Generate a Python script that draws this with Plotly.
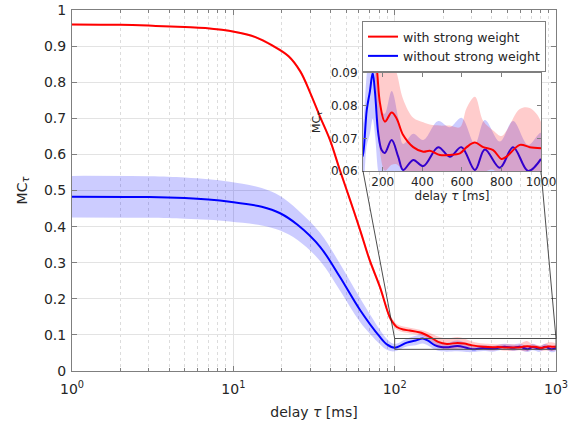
import plotly.graph_objects as go
import numpy as np

# ---------------- data ----------------
delay_red = [1, 2, 3.3, 5, 6.7, 10.3, 13.7, 17.4, 22, 26,
             30, 34.5, 39.7, 45.7, 52.9, 61, 70, 81, 93, 98,
             103, 113, 124, 150, 172, 186, 211, 245, 270, 303,
             354, 405, 438, 489, 539, 590, 624, 666, 708, 758,
             800, 826, 893, 943, 1000]
mc_red = [0.960, 0.959, 0.956, 0.953, 0.950, 0.939, 0.925, 0.902, 0.872, 0.830,
          0.770, 0.704, 0.640, 0.557, 0.474, 0.391, 0.307, 0.233, 0.150, 0.133,
          0.122, 0.115, 0.112, 0.104, 0.090, 0.0807, 0.0751, 0.0779, 0.0761, 0.0710,
          0.0673, 0.0659, 0.0662, 0.0649, 0.0649, 0.0654, 0.0673, 0.0687, 0.0673, 0.0664,
          0.0637, 0.0644, 0.0680, 0.0673, 0.0670]
sd_red = [0.002, 0.002, 0.002, 0.002, 0.002, 0.003, 0.003, 0.004, 0.004, 0.005,
          0.005, 0.006, 0.006, 0.007, 0.007, 0.008, 0.008, 0.008, 0.008, 0.008,
          0.008, 0.008, 0.008, 0.008, 0.012, 0.015, 0.015, 0.016, 0.014, 0.011,
          0.009, 0.009, 0.008, 0.009, 0.009, 0.008, 0.012, 0.014, 0.008, 0.006,
          0.007, 0.008, 0.011, 0.012, 0.008]

delay_blue = [1, 3, 5, 7, 9.5, 15, 19.5, 25, 34.5, 45.7, 61, 80.8, 90, 100,
              119, 135, 149, 161, 177, 194, 210, 245, 278, 303,
              354, 405, 480, 539, 598, 666, 716, 792, 859, 935, 1000]
mc_blue = [0.483, 0.482, 0.479, 0.475, 0.469, 0.455, 0.437, 0.405, 0.344, 0.261,
           0.169, 0.095, 0.073, 0.0645,
           0.0787, 0.0844, 0.0900, 0.0839, 0.0716, 0.0664, 0.0655, 0.0695, 0.0644, 0.0603,
           0.0634, 0.0615, 0.0673, 0.0644, 0.0673, 0.0603, 0.0666, 0.0610, 0.0673, 0.0600,
           0.0637]
sd_blue = [0.0575, 0.0575, 0.057, 0.056, 0.055, 0.052, 0.048, 0.042, 0.039, 0.037,
           0.033, 0.020, 0.015, 0.010,
           0.011, 0.013, 0.014, 0.013, 0.012, 0.012, 0.012, 0.015, 0.012, 0.008,
           0.008, 0.008, 0.008, 0.009, 0.009, 0.008, 0.009, 0.008, 0.008, 0.008,
           0.008]

series_names = ["with strong weight", "without strong weight"]
main_xticks = [1, 10, 100, 1000]
main_xticktext = ["10<sup>0</sup>", "10<sup>1</sup>", "10<sup>2</sup>", "10<sup>3</sup>"]
minor_xticks = [m * d for d in (1, 10, 100) for m in range(2, 10)]
inset_xticks = [200, 400, 600, 800, 1000]
zoom_x = [100, 1000]
zoom_y = [0.06, 0.09]

# ---------------- layout geometry (page pixels) ----------------
W, H = 581, 426


def px_x(p):
    return p / W


def px_y(p):
    return (H - p) / H


main_xd = [px_x(72), px_x(556)]
main_yd = [px_y(371), px_y(10)]
ins_xd = [px_x(363), px_x(541)]
ins_yd = [px_y(171), px_y(73)]

FONT = "DejaVu Sans"
TXT = "#262626"
AX = "#7f7f7f"
RED = "#ff0000"
BLUE = "#0000ff"
RED_F = "rgba(255,0,0,0.2)"
BLUE_F = "rgba(0,0,255,0.2)"


def band(x, m, s, color, xa, ya):
    up = [a + b for a, b in zip(m, s)]
    lo = [a - b for a, b in zip(m, s)]
    return go.Scatter(x=list(x) + list(x)[::-1], y=up + lo[::-1], fill="toself",
                      fillcolor=color, mode="lines",
                      line=dict(width=0, shape="spline", smoothing=1.0),
                      hoverinfo="skip", showlegend=False, xaxis=xa, yaxis=ya)


def line(x, m, color, xa, ya, name=None, show=False, rank=None):
    return go.Scatter(x=x, y=m, mode="lines", name=name, showlegend=show,
                      legendrank=rank,
                      line=dict(color=color, width=2, shape="spline", smoothing=1.0),
                      xaxis=xa, yaxis=ya)


fig = go.Figure()
for xa, ya, lg in (("x", "y", True), ("x2", "y2", False)):
    fig.add_trace(band(delay_blue, mc_blue, sd_blue, BLUE_F, xa, ya))
    fig.add_trace(line(delay_blue, mc_blue, BLUE, xa, ya, series_names[1], lg, 2))
    fig.add_trace(band(delay_red, mc_red, sd_red, RED_F, xa, ya))
    fig.add_trace(line(delay_red, mc_red, RED, xa, ya, series_names[0], lg, 1))


def mpx(v):
    return main_xd[0] + np.log10(v) / 3 * (main_xd[1] - main_xd[0])


def mpy(v):
    return main_yd[0] + v * (main_yd[1] - main_yd[0])


shapes = [
    dict(type="rect", xref="x2 domain", yref="y2 domain", x0=0, x1=1, y0=0, y1=1,
         fillcolor="white", line=dict(width=0), layer="below"),
    dict(type="rect", xref="x", yref="y", x0=zoom_x[0], x1=zoom_x[1],
         y0=zoom_y[0], y1=zoom_y[1], line=dict(color="#505050", width=1)),
    dict(type="line", xref="paper", yref="paper", x0=ins_xd[0], y0=ins_yd[0],
         x1=mpx(zoom_x[0]), y1=mpy(zoom_y[1]), line=dict(color="#202020", width=0.8)),
    dict(type="line", xref="paper", yref="paper", x0=ins_xd[1], y0=ins_yd[0],
         x1=mpx(zoom_x[1]), y1=mpy(zoom_y[1]), line=dict(color="#202020", width=0.8)),
]

fig.update_layout(
    width=W, height=H,
    margin=dict(l=0, r=0, t=0, b=0),
    paper_bgcolor="white", plot_bgcolor="white",
    font=dict(family=FONT, size=14, color=TXT),
    shapes=shapes,
    showlegend=True,
    legend=dict(x=px_x(362), y=px_y(21), xanchor="left", yanchor="top",
                bgcolor="white", bordercolor=AX, borderwidth=1,
                font=dict(size=12.5, color=TXT), tracegroupgap=0,
                itemwidth=30),
    xaxis=dict(type="log", range=[0, 3], domain=main_xd, anchor="y",
               tickvals=main_xticks, ticktext=main_xticktext,
               ticks="inside", ticklen=5, tickcolor=AX, ticklabelstandoff=5,
               showgrid=True, gridcolor="#e3e3e3",
               minor=dict(tickvals=minor_xticks, ticks="inside", ticklen=3,
                          tickcolor=AX, showgrid=True, griddash="dot",
                          gridcolor="#dcdcdc"),
               showline=True, linecolor=AX, mirror="ticks", zeroline=False,
               automargin=False,
               title=dict(text="delay <i>τ</i> [ms]", standoff=11,
                          font=dict(size=14))),
    yaxis=dict(range=[0, 1], domain=main_yd, anchor="x", dtick=0.1,
               ticks="inside", ticklen=5, tickcolor=AX, ticklabelstandoff=2,
               showgrid=True, gridcolor="#e3e3e3",
               showline=True, linecolor=AX, mirror="ticks", zeroline=False,
               automargin=False,
               title=dict(text="MC<sub><i>τ</i></sub>", standoff=13,
                          font=dict(size=14))),
    xaxis2=dict(range=zoom_x, domain=ins_xd, anchor="y2",
                tickvals=inset_xticks, ticks="inside", ticklen=4, tickcolor=AX,
                showgrid=False, showline=True, linecolor=AX, mirror="ticks",
                zeroline=False, automargin=False, tickfont=dict(size=12),
                title=dict(text="delay <i>τ</i> [ms]", standoff=2,
                           font=dict(size=12))),
    yaxis2=dict(range=zoom_y, domain=ins_yd, anchor="x2", dtick=0.01,
                tickformat=".2f", ticks="inside", ticklen=4, tickcolor=AX,
                ticklabelstandoff=2,
                showgrid=False, showline=True, linecolor=AX, mirror="ticks",
                zeroline=False, automargin=False, tickfont=dict(size=12),
                title=dict(text="MC<sub><i>τ</i></sub>", standoff=8,
                           font=dict(size=11))),
)

# remove the browser's default 8px body margin so the figure fills the window
fig.write_html("out.html", config={"displayModeBar": False},
               post_script="document.body.style.margin='0px';")
